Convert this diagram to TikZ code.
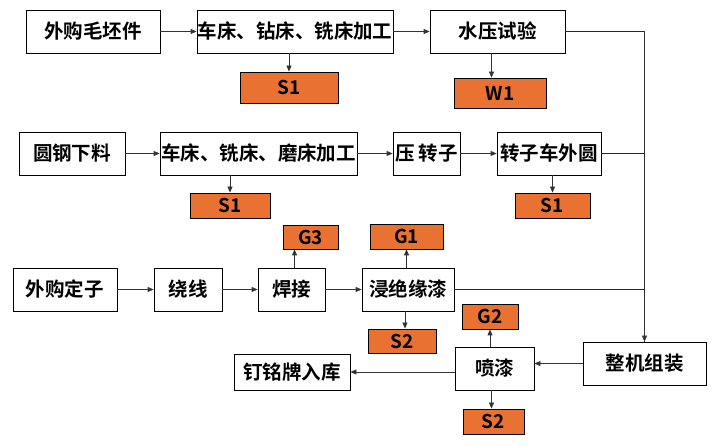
\documentclass[tikz,border=0pt]{standalone}
\usepackage{fontspec}
\setmainfont{Noto Sans CJK SC}[BoldFont={* Bold}]
\usepackage{tikz}
\usetikzlibrary{arrows.meta, calc}

\definecolor{wasteorange}{RGB}{233,113,50}

\begin{document}
\begin{tikzpicture}[x=1pt, y=-1pt,
    procbox/.style={draw=black, line width=0.8pt, fill=white, inner sep=0pt,
        minimum height=43pt, font=\fontsize{19.5}{20}\selectfont\bfseries},
    wastebox/.style={draw=black, line width=0.8pt, fill=wasteorange, inner sep=0pt,
        minimum height=25pt, font=\fontsize{19}{20}\selectfont\bfseries},
    flow/.style={draw=black!80, line width=0.8pt, -{Triangle[length=6pt,width=5pt]}},
    trunk/.style={draw=black!85, line width=0.9pt}]
\useasboundingbox (0,0) rectangle (716,446);
% Row 1: housing
\node[procbox, minimum width=134pt] (wgmp) at (93,31.5) {外购毛坯件};
\node[procbox, minimum width=196pt] (czjg) at (295,31.5) {车床、钻床、铣床加工};
\node[procbox, minimum width=135pt] (sysy) at (497.5,31.5) {水压试验};
\node[wastebox, minimum width=98pt, minimum height=31pt] (s1a) at (289,87.5) {S1};
\node[wastebox, minimum width=92pt, minimum height=30pt] (w1) at (500,93) {W1};
% Row 2: rotor
\node[procbox, minimum width=106pt] (ygxl) at (72,153.5) {圆钢下料};
\node[procbox, minimum width=197pt] (cxmc) at (258.5,153.5) {车床、铣床、磨床加工};
\node[procbox, minimum width=67pt] (yzz) at (426.5,153.5) {压 转子};
\node[procbox, minimum width=104pt] (zzcw) at (549,153.5) {转子车外圆};
\node[wastebox, minimum width=80pt] (s1b) at (230,205.5) {S1};
\node[wastebox, minimum width=75pt] (s1c) at (552.5,205.5) {S1};
% Row 3: stator
\node[procbox, minimum width=104pt] (wgdz) at (65,289.5) {外购定子};
\node[procbox, minimum width=68pt] (rx) at (188,289.5) {绕线};
\node[procbox, minimum width=67pt] (hj) at (291.5,289.5) {焊接};
\node[procbox, minimum width=92pt] (jjyq) at (408,289.5) {浸绝缘漆};
\node[wastebox, minimum width=55pt, minimum height=24pt] (g3) at (310.5,237) {G3};
\node[wastebox, minimum width=73pt] (g1) at (406.5,236.5) {G1};
\node[wastebox, minimum width=68pt, minimum height=24pt] (s2a) at (402,341) {S2};
% Row 4: assembly
\node[procbox, minimum width=123pt] (zjzz) at (644.5,363.5) {整机组装};
\node[procbox, minimum width=79pt] (pq) at (494.5,368.5) {喷漆};
\node[procbox, minimum width=116pt, minimum height=36pt] (dmp) at (292,372) {钉铭牌入库};
\node[wastebox, minimum width=56pt] (g2) at (490,316.5) {G2};
\node[wastebox, minimum width=61pt] (s2b) at (493.5,421.5) {S2};
% Main flow
\draw[flow] (wgmp) -- (czjg);
\draw[flow] (czjg) -- (sysy);
\draw[flow] (ygxl) -- (cxmc);
\draw[flow] (cxmc) -- (yzz);
\draw[flow] (yzz) -- (zzcw);
\draw[flow] (wgdz) -- (rx);
\draw[flow] (rx) -- (hj);
\draw[flow] (hj) -- (jjyq);
% Waste outlets
\draw[flow] (s1a.north |- czjg.south) -- (s1a.north);
\draw[flow] ([xshift=-6pt]sysy.south) -- ([xshift=-6pt]sysy.south |- w1.north);
\draw[flow] (s1b.north |- cxmc.south) -- (s1b.north);
\draw[flow] (s1c.north |- zzcw.south) -- (s1c.north);
\draw[flow] ([xshift=3pt]hj.north) -- ([xshift=3pt]hj.north |- g3.south);
\draw[flow] (g1.south |- jjyq.north) -- (g1.south);
\draw[flow] ([xshift=-3pt]jjyq.south) -- ([xshift=-3pt]jjyq.south |- s2a.north);
\draw[flow] (g2.south |- pq.north) -- (g2.south);
\draw[flow] ([xshift=-3pt]pq.south) -- ([xshift=-3pt]pq.south |- s2b.north);
% Collect to assembly
\coordinate (jrot) at (zzcw.east -| zjzz.north);
\coordinate (jsta) at (jjyq.east -| zjzz.north);
\draw[trunk] (sysy.east) -| (zjzz.north);
\draw[flow] (sysy.east -| zjzz.north) -- (zjzz.north);
\draw[trunk] (zzcw.east) -- (jrot);
\draw[trunk] (jjyq.east) -- (jsta);
% Paint and store
\draw[flow] (zjzz.west) -- (zjzz.west -| pq.east);
\draw[flow] (pq.west |- dmp.east) -- (dmp.east);
\end{tikzpicture}
\end{document}
